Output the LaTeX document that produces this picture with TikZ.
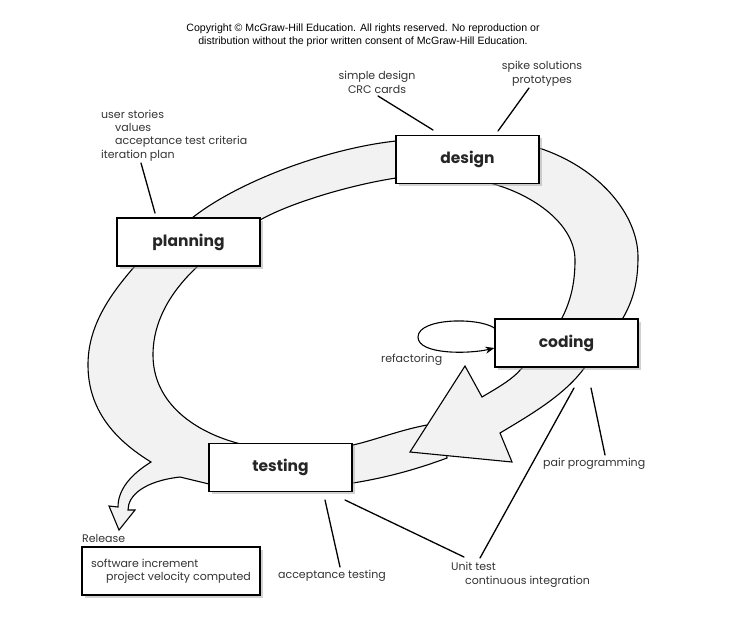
\documentclass[tikz,border=0pt]{standalone}
\usepackage{fontspec}
\setmainfont{Poppins}
\newfontfamily\copyfont{Liberation Sans}
\usetikzlibrary{shadows,arrows.meta}
\begin{document}
\begin{tikzpicture}[x=1pt,y=-1pt,
  band/.style={fill=gray!10,draw=black,line width=1.1pt,line join=miter},
  stagebox/.style={draw=black,fill=white,line width=1.2pt,minimum width=143pt,minimum height=48pt,inner sep=0pt,
    font=\fontsize{15.5}{18}\selectfont\bfseries,text=black!85,
    drop shadow={shadow xshift=2.5pt,shadow yshift=-2.5pt,fill=gray!70}},
  lbl/.style={font=\fontsize{11}{13.3}\selectfont,text=black!80,inner sep=0pt},
  callout/.style={line width=1.3pt,line cap=round}]
\useasboundingbox (0,0) rectangle (738,622);

% copyright
\node[font=\copyfont\fontsize{10.6}{13}\selectfont,align=center,inner sep=0pt,anchor=base] (copy) at (363,44)
  {Copyright \textcopyright{} McGraw-Hill Education. All rights reserved. No reproduction or\\
   distribution without the prior written consent of McGraw-Hill Education.};

% band, second part (arrowhead -> testing -> planning, release branch)
\filldraw[band] (445,440) -- (427,425) .. controls (400,430) and (375,440) .. (353,445) -- (300,460) -- (237,443)
  .. controls (190,430) and (153,400) .. (153,355) .. controls (153,320) and (172,290) .. (198,266)
  -- (170,250) -- (135,266) .. controls (105,300) and (88,330) .. (88,365)
  .. controls (88,410) and (115,440) .. (151,462)
  .. controls (130,475) and (118,490) .. (118,507) -- (109,506) -- (119,530) -- (135,510) -- (128,510)
  .. controls (128,495) and (145,481) .. (180,477) -- (209,484) -- (280,480) -- (353,483)
  .. controls (390,477) and (420,468) .. (447,458) -- cycle;

% band, first part (planning -> design -> coding -> arrowhead)
\filldraw[band] (230,235) -- (192,218) .. controls (240,180) and (330,148) .. (396,141) -- (450,150) -- (539,148)
  .. controls (600,168) and (638,215) .. (638,257) .. controls (638,285) and (632,302) .. (623,318)
  -- (600,340) -- (585,367) .. controls (565,395) and (530,415) .. (500,433)
  -- (512,462) -- (410,452) -- (465,366) -- (482,397)
  .. controls (497,388) and (512,380) .. (522,368) -- (540,340) -- (562,318)
  .. controls (570,302) and (575,285) .. (575,260) .. controls (575,225) and (535,195) .. (490,183)
  -- (450,165) -- (396,178) .. controls (350,185) and (290,203) .. (260,220) -- cycle;

% stage boxes
\node[stagebox] (design) at (467.5,159.5) {design};
\node[stagebox] (planning) at (188.5,242) {planning};
\node[stagebox] (coding) at (566.5,343) {coding};
\node[stagebox] (testing) at (280.5,467.5) {testing};
\node[stagebox,minimum width=178pt,font=\fontsize{11}{13.3}\selectfont,align=left,text=black!80] (release) at (171,571)
  {software increment\\\hspace*{15pt}project velocity computed};

% labels (base anchor = baseline of last line)
\node[lbl,align=left,anchor=base west] (plan) at (101,158)
  {user stories\\\hspace*{14pt}values\\\hspace*{14pt}acceptance test criteria\\iteration plan};
\node[lbl,align=center,anchor=base] (simple) at (377,93) {simple design\\CRC cards};
\node[lbl,align=center,anchor=base] (spike) at (542,83) {spike solutions\\prototypes};
\node[lbl,anchor=base west] (refac) at (381,362) {refactoring};
\node[lbl,anchor=base west] (pair) at (543,466) {pair programming};
\node[lbl,align=left,anchor=base west] (unit) at (451,584) {Unit test\\\hspace*{14pt}continuous integration};
\node[lbl,anchor=base west] (acc) at (278,578) {acceptance testing};
\node[lbl,anchor=base west] (rel) at (82,542) {Release};

% callout coordinates
\coordinate (pA) at (141,163); \coordinate (pB) at (155,213);
\coordinate (dA) at (378,96);  \coordinate (dB) at (433,130);
\coordinate (sA) at (529,88);  \coordinate (sB) at (498,131);
\coordinate (ppA) at (591,388); \coordinate (ppB) at (605,455);
\coordinate (uA) at (574,388); \coordinate (uB) at (480,558);
\coordinate (tA) at (345,500); \coordinate (tB) at (464,557);
\coordinate (aA) at (325,500); \coordinate (aB) at (340,567);
\draw[callout] (pA) -- (pB);
\draw[callout] (dA) -- (dB);
\draw[callout] (sA) -- (sB);
\draw[callout] (ppA) -- (ppB);
\draw[callout] (uA) -- (uB);
\draw[callout] (tA) -- (tB);
\draw[callout] (aA) -- (aB);

% refactoring loop
\coordinate (rA) at ([yshift=15pt]coding.west);
\coordinate (rB) at ([yshift=-5pt]coding.west);
\draw[line width=1.1pt,-{Stealth[length=9pt,width=7pt]}] (rA) .. controls (478,317) and (418,318) .. (418,337)
  .. controls (418,355) and (470,354) .. (rB);
\end{tikzpicture}
\end{document}
